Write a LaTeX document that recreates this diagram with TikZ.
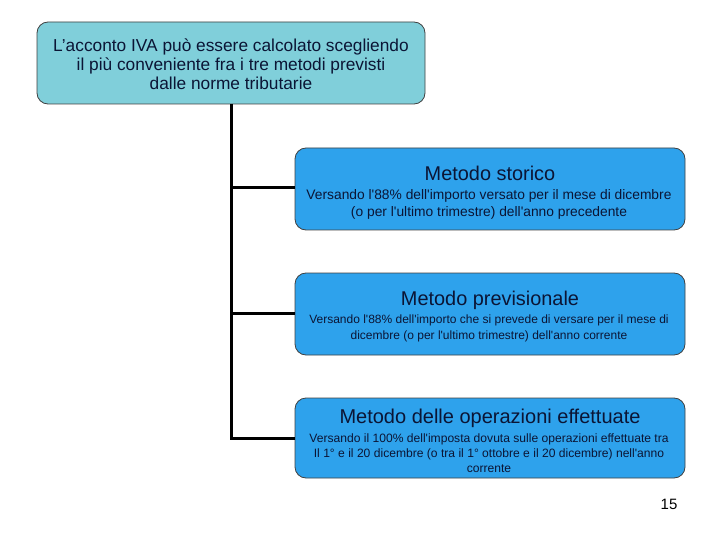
\documentclass[tikz,border=0pt]{standalone}
\usepackage{fontspec}
\setmainfont{Liberation Sans}[Ligatures=TeXOff]
\begin{document}
\begin{tikzpicture}[x=1pt,y=-1pt,
  topbox/.style={draw=black!75,line width=0.8pt,fill=topcol,rounded corners=11pt},
  methbox/.style={draw=black!75,line width=0.8pt,fill=methcol,rounded corners=11pt},
  conn/.style={line width=3pt,black},
  txt/.style={inner sep=0pt,align=center,text=txtcol}]
\definecolor{topcol}{HTML}{80CFDA}
\definecolor{methcol}{HTML}{2EA2EC}
\definecolor{txtcol}{HTML}{0B1535}
\useasboundingbox (0,0) rectangle (720,540);
% boxes
\draw[topbox] (37,22) rectangle (425,104);
\node[txt,font=\fontsize{17.3}{19}\selectfont] (top) at (231,64)
  {L’acconto IVA può essere calcolato scegliendo\\il più conveniente fra i tre metodi previsti\\dalle norme tributarie};
\coordinate (topb) at (231,104);
\draw[methbox] (295,148) rectangle (685,230);
\draw[methbox] (295,273) rectangle (685,355);
\draw[methbox] (295,398) rectangle (685,478);
\coordinate (m1) at (295,188);
\coordinate (m2) at (295,313);
\coordinate (m3) at (295,438);
\node[txt,font=\fontsize{19.9}{22}\selectfont] (t1) at (490,173) {Metodo storico};
\node[txt,font=\fontsize{13.8}{17}\selectfont] (b1) at (489,204)
  {Versando l'88\%\ dell'importo versato per il mese di dicembre\\(o per l'ultimo trimestre) dell'anno precedente};
\node[txt,font=\fontsize{19.9}{22}\selectfont] (t2) at (490,300) {Metodo previsionale};
\node[txt,font=\fontsize{12.0}{16}\selectfont] (b2) at (489,328)
  {Versando l'88\%\ dell'importo che si prevede di versare per il mese di\\dicembre (o per l'ultimo trimestre) dell'anno corrente};
\node[txt,font=\fontsize{20}{23}\selectfont] (t3) at (490,418) {Metodo delle operazioni effettuate};
\node[txt,font=\fontsize{12.1}{14.7}\selectfont] (b3) at (489,453)
  {Versando il 100\%\ dell'imposta dovuta sulle operazioni effettuate tra\\Il 1° e il 20 dicembre (o tra il 1° ottobre e il 20 dicembre) nell'anno\\corrente};
\node[inner sep=0pt,font=\fontsize{15}{17}\selectfont,text=black] (pg) at (669,504) {15};
% connectors
\draw[conn] (topb) |- (m3);
\draw[conn] (topb |- m1) -- (m1);
\draw[conn] (topb |- m2) -- (m2);
\end{tikzpicture}
\end{document}
